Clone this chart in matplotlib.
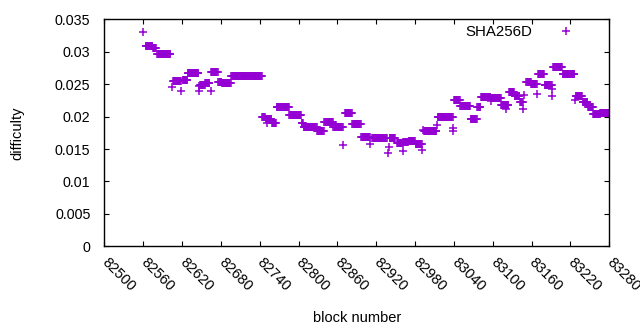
import numpy as np
import matplotlib
matplotlib.use("Agg")
import matplotlib.pyplot as plt
from matplotlib.transforms import ScaledTranslation

plt.rcParams['font.family'] = ['Liberation Sans', 'DejaVu Sans']

# Runs of consecutive blocks sharing the same difficulty (start block, end block, difficulty)
run_start = [82564, 82575, 82582, 82606, 82621, 82629, 82648, 82656, 82665, 82676,
             82682, 82696, 82744, 82749, 82759, 82766, 82786, 82805, 82808, 82829,
             82840, 82854, 82872, 82883, 82897, 82914, 82941, 82952, 82962, 82970,
             82981, 82994, 83015, 83040, 83050, 83066, 83076, 83082, 83097, 83113,
             83125, 83134, 83142, 83152, 83159, 83170, 83180, 83193, 83208, 83228,
             83239, 83247, 83255, 83266]
run_end = [82574, 82580, 82602, 82618, 82628, 82645, 82655, 82662, 82675, 82681,
           82695, 82743, 82748, 82758, 82765, 82785, 82804, 82807, 82828, 82839,
           82853, 82868, 82882, 82896, 82910, 82936, 82949, 82961, 82969, 82980,
           82990, 83013, 83038, 83049, 83065, 83075, 83081, 83096, 83112, 83124,
           83133, 83141, 83146, 83159, 83168, 83179, 83191, 83207, 83226, 83238,
           83246, 83255, 83266, 83280]
run_diff = [0.0309, 0.0305, 0.0297, 0.0255, 0.0257, 0.0267, 0.0248, 0.0252, 0.0269, 0.0254,
            0.0252, 0.0262, 0.0199, 0.0196, 0.0190, 0.0214, 0.0202, 0.0190, 0.0184, 0.0177,
            0.0191, 0.0184, 0.0205, 0.0189, 0.0168, 0.0167, 0.0167, 0.0159, 0.0161, 0.0163,
            0.0157, 0.0177, 0.0199, 0.0225, 0.0217, 0.0197, 0.0214, 0.0230, 0.0229, 0.0218,
            0.0238, 0.0231, 0.0222, 0.0253, 0.0250, 0.0265, 0.0249, 0.0277, 0.0265, 0.0231,
            0.0222, 0.0215, 0.0204, 0.0206]

# Isolated blocks
pt_block = [82560, 82604, 82619, 82646, 82647, 82665, 82751, 82869, 82911, 82938,
            82940, 82961, 82991, 82993, 83014, 83038, 83039, 83098, 83120, 83147,
            83148, 83169, 83191, 83192, 83227]
pt_diff = [0.0330, 0.0246, 0.0239, 0.0247, 0.0240, 0.0239, 0.0190, 0.0156, 0.0158, 0.0144,
           0.0153, 0.0147, 0.0148, 0.0179, 0.0187, 0.0183, 0.0178, 0.0224, 0.0211, 0.0212,
           0.0233, 0.0235, 0.0243, 0.0231, 0.0225]

blocks = list(pt_block)
diffs = list(pt_diff)
for s, e, d in zip(run_start, run_end, run_diff):
    for b in range(s, e + 1):
        blocks.append(b)
        diffs.append(d)

x_ticks = list(range(82500, 83281, 60))
y_ticks = [0, 0.005, 0.01, 0.015, 0.02, 0.025, 0.03, 0.035]
y_labels = ["0", "0.005", "0.01", "0.015", "0.02", "0.025", "0.03", "0.035"]

fig = plt.figure(figsize=(6.4, 3.3), dpi=100)
ax = fig.add_axes([0.163, 0.2536, 0.789, 0.688])
color = '#9400D3'
ax.plot(blocks, diffs, linestyle='none', marker='+', color=color,
        markersize=5.8, markeredgewidth=1.1, label='SHA256D')

ax.set_xlim(82500, 83280)
ax.set_ylim(0, 0.035)
ax.set_xticks(x_ticks)
ax.set_xticklabels([str(t) for t in x_ticks], rotation=-45, ha='left', va='center',
                   rotation_mode='anchor', fontsize=10.5)
offset = ScaledTranslation(2 / 100, 0, fig.dpi_scale_trans)
for lab in ax.get_xticklabels():
    lab.set_transform(lab.get_transform() + offset)
ax.set_yticks(y_ticks)
ax.set_yticklabels(y_labels, fontsize=10.3)
ax.tick_params(direction='in', length=3.5, width=0.8, top=True, right=True)
ax.tick_params(axis='y', pad=10)
ax.tick_params(axis='x', pad=10)
for sp in ax.spines.values():
    sp.set_linewidth(1.0)

ax.set_xlabel('block number', fontsize=10.5, labelpad=12)
ax.set_ylabel('difficulty', fontsize=10.5, labelpad=22)

ax.legend(loc='upper right', bbox_to_anchor=(0.9445, 0.975), frameon=False,
          markerfirst=False, borderpad=0, borderaxespad=0, handlelength=2,
          handletextpad=1.3, fontsize=10.8)

fig.savefig('out.png', dpi=100)
